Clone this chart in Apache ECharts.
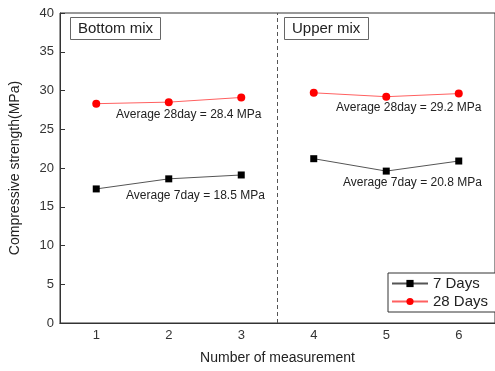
<!DOCTYPE html>
<html>
<head>
<meta charset="utf-8">
<script src="https://cdn.jsdelivr.net/npm/echarts@6/dist/echarts.min.js"></script>
<style>
  body { margin: 0; background: #fff; }
  #chart { width: 495px; height: 371px; }
</style>
</head>
<body>
<div id="chart"></div>
<script>
// measurement numbers, split in the two mixes
const runLabels = ['1', '2', '3', '4', '5', '6'];
const bottomRuns = [1, 2, 3];
const upperRuns = [4, 5, 6];

// compressive strength (MPa)
const bottom7 = [17.3, 18.6, 19.1];
const bottom28 = [28.3, 28.5, 29.1];
const upper7 = [21.2, 19.6, 20.9];
const upper28 = [29.7, 29.2, 29.6];

const yTicks = [0, 5, 10, 15, 20, 25, 30, 35, 40];
const splitAt = 3.5;

const font = 'Liberation Sans, Arial, sans-serif';
const myChart = echarts.init(document.getElementById('chart'));

const pair = (xs, ys) => xs.map((x, i) => [x, ys[i]]);

const style7 = {
    name: '7 Days',
    type: 'line',
    symbol: 'rect',
    symbolSize: 7,
    itemStyle: {color: '#000'},
    lineStyle: {color: '#555', width: 1},
    z: 3
};
const style28 = {
    name: '28 Days',
    type: 'line',
    symbol: 'circle',
    symbolSize: 8,
    itemStyle: {color: '#ff0000'},
    lineStyle: {color: '#ff6060', width: 1},
    z: 3
};

const boxTitle = (text, left) => ({
    text: text,
    left: left,
    top: 17,
    padding: [4, 8, 4, 8],
    borderColor: '#666',
    borderWidth: 1,
    textStyle: {fontFamily: font, fontSize: 15, fontWeight: 'normal', color: '#222'}
});

const note = (text, x, y) => ({
    type: 'text',
    left: x,
    top: y,
    style: {text: text, fontFamily: font, fontSize: 12, fill: '#222'}
});

let option = {
    animation: false,
    title: [boxTitle('Bottom mix', 70), boxTitle('Upper mix', 284)],
    grid: {
        left: 60,
        right: -3,
        top: 13,
        bottom: 48,
        show: true,
        borderColor: '#333',
        borderWidth: 1
    },
    legend: {
        orient: 'vertical',
        left: 388,
        top: 273,
        data: ['7 Days', '28 Days'],
        itemWidth: 36,
        itemHeight: 9,
        itemGap: 3,
        padding: [3, 10, 3, 3],
        borderColor: '#333',
        borderWidth: 1,
        backgroundColor: '#fff',
        textStyle: {fontFamily: font, fontSize: 15, color: '#222'}
    },
    xAxis: [
        {
            // value axis that places the points
            type: 'value',
            min: 0.5,
            max: 6.5,
            axisLine: {lineStyle: {color: '#333'}},
            axisTick: {show: false},
            axisLabel: {show: false},
            splitLine: {show: false}
        },
        {
            // category axis only for ticks and labels
            type: 'category',
            position: 'bottom',
            data: runLabels,
            boundaryGap: true,
            name: 'Number of measurement',
            nameLocation: 'middle',
            nameGap: 28,
            nameTextStyle: {fontFamily: font, fontSize: 14, color: '#222'},
            axisLine: {lineStyle: {color: '#333'}},
            axisTick: {inside: true, alignWithLabel: true, length: 5, lineStyle: {color: '#333'}},
            splitLine: {show: false},
            axisLabel: {fontFamily: font, fontSize: 13, color: '#333', margin: 6}
        }
    ],
    yAxis: {
        type: 'value',
        min: yTicks[0],
        max: yTicks[yTicks.length - 1],
        interval: 5,
        name: 'Compressive strength(MPa)',
        nameLocation: 'middle',
        nameGap: 38,
        nameTextStyle: {fontFamily: font, fontSize: 14, color: '#222'},
        axisLine: {show: true, lineStyle: {color: '#333'}},
        axisTick: {show: true, inside: true, length: 5, lineStyle: {color: '#333'}},
        splitLine: {show: false},
        axisLabel: {fontFamily: font, fontSize: 13, color: '#333', margin: 6}
    },
    graphic: [
        note('Average 28day = 28.4 MPa', 116, 109),
        note('Average 7day = 18.5 MPa', 126, 190),
        note('Average 28day = 29.2 MPa', 336, 102),
        note('Average 7day = 20.8 MPa', 343, 177)
    ],
    series: [
        Object.assign({}, style7, {
            data: pair(bottomRuns, bottom7),
            markLine: {
                silent: true,
                symbol: 'none',
                label: {show: false},
                lineStyle: {color: '#555', type: [4, 3], width: 1},
                data: [{xAxis: splitAt}]
            }
        }),
        Object.assign({}, style7, {data: pair(upperRuns, upper7)}),
        Object.assign({}, style28, {data: pair(bottomRuns, bottom28)}),
        Object.assign({}, style28, {data: pair(upperRuns, upper28)})
    ]
};

myChart.setOption(option);
</script>
</body>
</html>
